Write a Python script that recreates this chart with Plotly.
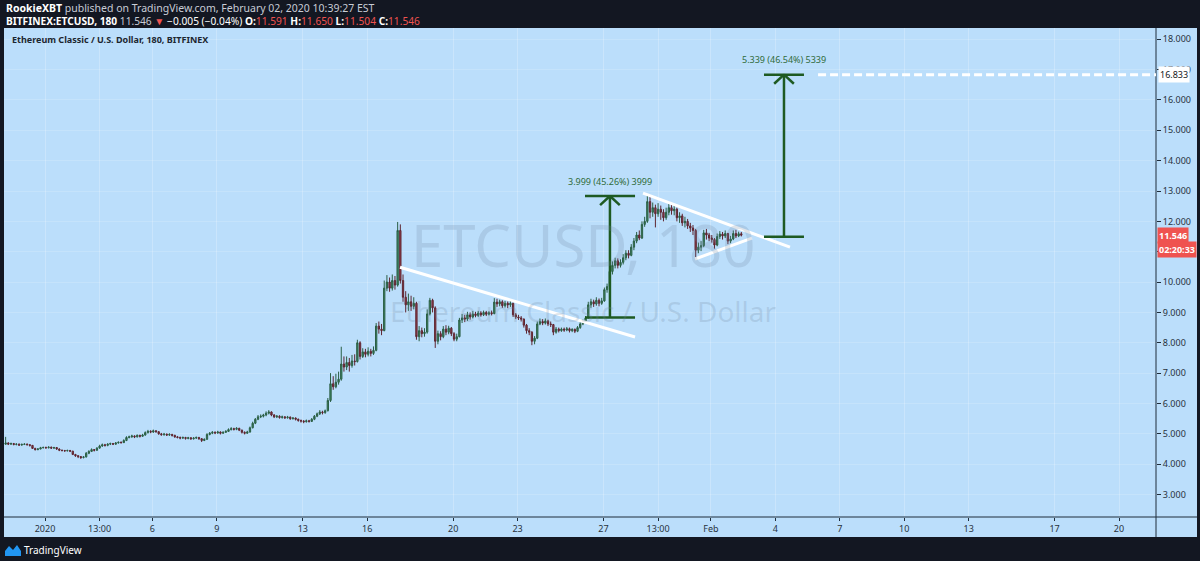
"""
ETC/USD 3h chart in the style of a TradingView snapshot, drawn with Plotly.
"""
import plotly.graph_objects as go
import pandas as pd

# Bitfinex ETC/USD, 180 minute candles, one line per day
# (Dec 30 2019 04:00 ... Feb 2 2020 10:00, chart time)
OPEN = [
    4.66, 4.70, 4.66, 4.68, 4.65, 4.66, 4.63,
    4.65, 4.66, 4.64, 4.62, 4.52, 4.48, 4.50, 4.54,
    4.55, 4.54, 4.56, 4.53, 4.55, 4.50, 4.46, 4.45,
    4.44, 4.45, 4.43, 4.32, 4.28, 4.25, 4.22, 4.24,
    4.36, 4.42, 4.48, 4.46, 4.53, 4.60, 4.64, 4.62,
    4.66, 4.68, 4.66, 4.70, 4.72, 4.71, 4.78, 4.88,
    4.90, 4.93, 4.90, 4.95, 4.92, 4.96, 5.04, 5.08,
    5.06, 5.10, 5.07, 5.00, 4.97, 4.99, 4.96, 4.98,
    4.95, 4.90, 4.88, 4.86, 4.88, 4.85, 4.87, 4.84,
    4.86, 4.88, 4.84, 4.78, 4.82, 4.98, 5.02, 5.05,
    5.03, 5.06, 5.02, 5.05, 5.08, 5.14, 5.17, 5.15,
    5.18, 5.12, 5.05, 5.02, 5.06, 5.20, 5.35, 5.48,
    5.56, 5.58, 5.62, 5.68, 5.72, 5.62, 5.56, 5.58,
    5.54, 5.56, 5.53, 5.55, 5.50, 5.52, 5.48, 5.44,
    5.42, 5.40, 5.43, 5.41, 5.48, 5.58, 5.66, 5.72,
    5.70, 5.76, 6.10, 6.65, 6.55, 6.70, 6.80, 7.30,
    7.20, 7.35, 7.25, 7.40, 7.38, 8.00, 7.55, 7.70,
    7.62, 7.72, 7.65, 7.75, 8.55, 8.45, 8.40, 9.80,
    10.00, 9.80, 10.05, 9.90, 11.70, 10.05, 9.50, 9.25,
    9.35, 9.20, 9.30, 8.20, 8.40, 8.30, 8.35, 8.95,
    9.40, 9.15, 8.05, 8.30, 8.20, 8.45, 8.35, 8.48,
    8.30, 8.12, 8.20, 8.75, 8.82, 8.78, 8.92, 8.85,
    8.95, 8.90, 8.98, 8.92, 9.00, 8.94, 8.99, 8.96,
    9.34, 9.28, 9.35, 9.22, 9.30, 9.25, 9.30, 8.92,
    8.85, 8.82, 8.78, 8.58, 8.40, 8.35, 8.05, 8.15,
    8.62, 8.70, 8.65, 8.72, 8.62, 8.60, 8.35, 8.45,
    8.40, 8.45, 8.42, 8.46, 8.40, 8.44, 8.38, 8.50,
    8.62, 8.70, 8.82, 9.25, 9.35, 9.28, 9.40, 9.30,
    9.38, 9.75, 9.85, 10.35, 10.55, 10.70, 10.55, 10.65,
    10.80, 10.95, 10.88, 11.15, 11.35, 11.55, 11.45, 11.90,
    12.00, 12.65, 12.30, 12.45, 12.25, 12.40, 12.30, 12.12,
    12.30, 12.45, 12.35, 12.40, 12.12, 12.18, 11.95, 12.00,
    11.85, 11.78, 11.70, 11.05, 11.15, 11.20, 11.62, 11.55,
    11.45, 11.40, 11.22, 11.50, 11.58, 11.52, 11.60, 11.35,
    11.42, 11.60, 11.52, 11.591,
]
HIGH = [
    4.90, 4.72, 4.71, 4.70, 4.69, 4.68, 4.68,
    4.69, 4.68, 4.66, 4.63, 4.54, 4.53, 4.57, 4.58,
    4.58, 4.59, 4.58, 4.57, 4.56, 4.52, 4.48, 4.47,
    4.48, 4.47, 4.44, 4.34, 4.30, 4.27, 4.27, 4.40,
    4.46, 4.52, 4.50, 4.56, 4.64, 4.68, 4.67, 4.69,
    4.71, 4.70, 4.73, 4.75, 4.75, 4.82, 4.92, 4.94,
    4.97, 4.95, 4.98, 4.97, 5.00, 5.08, 5.13, 5.12,
    5.14, 5.12, 5.09, 5.03, 5.03, 5.01, 5.02, 5.00,
    4.97, 4.93, 4.91, 4.91, 4.90, 4.90, 4.89, 4.89,
    4.91, 4.90, 4.86, 4.85, 5.02, 5.06, 5.09, 5.08,
    5.10, 5.08, 5.08, 5.12, 5.18, 5.22, 5.20, 5.22,
    5.20, 5.14, 5.08, 5.10, 5.24, 5.40, 5.52, 5.62,
    5.64, 5.66, 5.74, 5.78, 5.74, 5.65, 5.62, 5.61,
    5.60, 5.58, 5.59, 5.57, 5.55, 5.54, 5.50, 5.47,
    5.45, 5.47, 5.46, 5.52, 5.62, 5.70, 5.78, 5.76,
    5.80, 6.18, 7.00, 6.90, 6.98, 7.05, 7.87, 7.55,
    7.55, 7.50, 7.60, 7.62, 8.10, 8.05, 7.82, 7.80,
    7.85, 7.80, 7.88, 8.65, 8.70, 8.62, 10.05, 10.23,
    10.15, 10.25, 10.20, 11.98, 11.90, 10.25, 9.70, 9.62,
    9.55, 9.50, 9.35, 8.55, 8.50, 8.48, 9.10, 9.48,
    9.45, 9.20, 8.40, 8.38, 8.55, 8.58, 8.56, 8.52,
    8.35, 8.30, 8.82, 8.95, 8.92, 9.02, 9.00, 9.05,
    9.02, 9.05, 9.04, 9.06, 9.05, 9.04, 9.06, 9.47,
    9.45, 9.42, 9.40, 9.38, 9.36, 9.40, 9.32, 8.98,
    8.92, 8.88, 8.80, 8.62, 8.48, 8.38, 8.22, 8.70,
    8.80, 8.78, 8.80, 8.76, 8.70, 8.62, 8.52, 8.50,
    8.50, 8.50, 8.52, 8.50, 8.48, 8.47, 8.55, 8.68,
    8.76, 8.88, 9.35, 9.45, 9.42, 9.50, 9.46, 9.48,
    9.82, 9.95, 10.45, 10.68, 10.80, 10.78, 10.75, 10.92,
    11.05, 11.05, 11.25, 11.45, 11.65, 11.70, 12.00, 12.15,
    12.87, 12.80, 12.62, 12.55, 12.60, 12.52, 12.40, 12.45,
    12.58, 12.55, 12.52, 12.45, 12.30, 12.25, 12.15, 12.08,
    11.95, 11.88, 11.75, 11.30, 11.35, 11.72, 11.75, 11.62,
    11.55, 11.45, 11.60, 11.68, 11.65, 11.70, 11.62, 11.52,
    11.70, 11.72, 11.66, 11.650,
]
LOW = [
    4.64, 4.63, 4.64, 4.62, 4.62, 4.60, 4.61,
    4.63, 4.62, 4.58, 4.50, 4.45, 4.46, 4.49, 4.52,
    4.51, 4.52, 4.50, 4.50, 4.47, 4.43, 4.42, 4.41,
    4.42, 4.40, 4.30, 4.24, 4.20, 4.17, 4.19, 4.22,
    4.33, 4.40, 4.42, 4.44, 4.51, 4.57, 4.58, 4.59,
    4.63, 4.63, 4.64, 4.68, 4.68, 4.70, 4.76, 4.85,
    4.87, 4.86, 4.88, 4.88, 4.90, 4.94, 5.01, 5.02,
    5.03, 5.04, 4.97, 4.94, 4.94, 4.93, 4.93, 4.91,
    4.87, 4.85, 4.82, 4.83, 4.81, 4.82, 4.80, 4.81,
    4.83, 4.80, 4.73, 4.76, 4.80, 4.95, 4.99, 4.99,
    5.00, 4.98, 5.00, 5.03, 5.06, 5.11, 5.11, 5.12,
    5.09, 5.01, 4.98, 5.00, 5.04, 5.18, 5.32, 5.45,
    5.52, 5.54, 5.58, 5.64, 5.58, 5.52, 5.52, 5.50,
    5.50, 5.49, 5.50, 5.46, 5.47, 5.44, 5.40, 5.37,
    5.35, 5.37, 5.37, 5.39, 5.45, 5.55, 5.62, 5.64,
    5.66, 5.74, 6.05, 6.45, 6.50, 6.62, 6.75, 7.05,
    7.10, 7.05, 7.18, 7.25, 7.35, 7.45, 7.50, 7.52,
    7.55, 7.55, 7.60, 7.72, 8.30, 8.25, 8.38, 9.70,
    9.68, 9.72, 9.75, 9.85, 9.95, 9.35, 9.00, 9.05,
    9.05, 9.10, 8.10, 8.05, 8.18, 8.20, 8.30, 8.90,
    9.00, 7.83, 7.95, 8.08, 8.15, 8.25, 8.28, 8.22,
    8.05, 8.05, 8.18, 8.65, 8.68, 8.72, 8.76, 8.80,
    8.84, 8.85, 8.86, 8.88, 8.88, 8.90, 8.90, 8.94,
    9.18, 9.20, 9.15, 9.16, 9.14, 9.18, 8.85, 8.78,
    8.75, 8.70, 8.50, 8.30, 8.25, 7.92, 7.95, 8.12,
    8.58, 8.58, 8.60, 8.55, 8.52, 8.25, 8.30, 8.34,
    8.36, 8.36, 8.38, 8.34, 8.35, 8.32, 8.35, 8.46,
    8.58, 8.66, 8.80, 9.15, 9.18, 9.22, 9.20, 9.25,
    9.35, 9.65, 9.80, 10.25, 10.45, 10.45, 10.48, 10.58,
    10.72, 10.78, 10.85, 11.05, 11.28, 11.38, 11.42, 11.82,
    11.95, 12.10, 12.15, 11.80, 12.15, 12.05, 12.00, 12.05,
    12.20, 12.22, 12.20, 12.00, 11.95, 11.85, 11.80, 11.75,
    11.65, 11.55, 10.82, 10.95, 11.02, 11.15, 11.40, 11.35,
    11.30, 11.10, 11.18, 11.42, 11.40, 11.45, 11.25, 11.28,
    11.38, 11.45, 11.48, 11.504,
]
CLOSE = [
    4.70, 4.66, 4.68, 4.65, 4.66, 4.63, 4.65,
    4.66, 4.64, 4.62, 4.52, 4.48, 4.50, 4.54, 4.55,
    4.54, 4.56, 4.53, 4.55, 4.50, 4.46, 4.45, 4.44,
    4.45, 4.43, 4.32, 4.28, 4.25, 4.22, 4.24, 4.36,
    4.42, 4.48, 4.46, 4.53, 4.60, 4.64, 4.62, 4.66,
    4.68, 4.66, 4.70, 4.72, 4.71, 4.78, 4.88, 4.90,
    4.93, 4.90, 4.95, 4.92, 4.96, 5.04, 5.08, 5.06,
    5.10, 5.07, 5.00, 4.97, 4.99, 4.96, 4.98, 4.95,
    4.90, 4.88, 4.86, 4.88, 4.85, 4.87, 4.84, 4.86,
    4.88, 4.84, 4.78, 4.82, 4.98, 5.02, 5.05, 5.03,
    5.06, 5.02, 5.05, 5.08, 5.14, 5.17, 5.15, 5.18,
    5.12, 5.05, 5.02, 5.06, 5.20, 5.35, 5.48, 5.56,
    5.58, 5.62, 5.68, 5.72, 5.62, 5.56, 5.58, 5.54,
    5.56, 5.53, 5.55, 5.50, 5.52, 5.48, 5.44, 5.42,
    5.40, 5.43, 5.41, 5.48, 5.58, 5.66, 5.72, 5.70,
    5.76, 6.10, 6.65, 6.55, 6.70, 6.80, 7.30, 7.20,
    7.35, 7.25, 7.40, 7.38, 8.00, 7.55, 7.70, 7.62,
    7.72, 7.65, 7.75, 8.55, 8.45, 8.40, 9.80, 10.00,
    9.80, 10.05, 9.90, 11.70, 10.05, 9.50, 9.25, 9.35,
    9.20, 9.30, 8.20, 8.40, 8.30, 8.35, 8.95, 9.40,
    9.15, 8.05, 8.30, 8.20, 8.45, 8.35, 8.48, 8.30,
    8.12, 8.20, 8.75, 8.82, 8.78, 8.92, 8.85, 8.95,
    8.90, 8.98, 8.92, 9.00, 8.94, 8.99, 8.96, 9.34,
    9.28, 9.35, 9.22, 9.30, 9.25, 9.30, 8.92, 8.85,
    8.82, 8.78, 8.58, 8.40, 8.35, 8.05, 8.15, 8.62,
    8.70, 8.65, 8.72, 8.62, 8.60, 8.35, 8.45, 8.40,
    8.45, 8.42, 8.46, 8.40, 8.44, 8.38, 8.50, 8.62,
    8.70, 8.82, 9.25, 9.35, 9.28, 9.40, 9.30, 9.38,
    9.75, 9.85, 10.35, 10.55, 10.70, 10.55, 10.65, 10.80,
    10.95, 10.88, 11.15, 11.35, 11.55, 11.45, 11.90, 12.00,
    12.65, 12.30, 12.45, 12.25, 12.40, 12.30, 12.12, 12.30,
    12.45, 12.35, 12.40, 12.12, 12.18, 11.95, 12.00, 11.85,
    11.78, 11.70, 11.05, 11.15, 11.20, 11.62, 11.55, 11.45,
    11.40, 11.22, 11.50, 11.58, 11.52, 11.60, 11.35, 11.42,
    11.60, 11.52, 11.591, 11.546,
]
FIRST_CANDLE = "2019-12-30 04:00"

X_TICKS = ["2020-01-01", "2020-01-03 13:00", "2020-01-06", "2020-01-09", "2020-01-13",
           "2020-01-16", "2020-01-20", "2020-01-23", "2020-01-27", "2020-01-29 13:00",
           "2020-02-01", "2020-02-04", "2020-02-07", "2020-02-10", "2020-02-13",
           "2020-02-17", "2020-02-20"]
X_LABELS = ["2020", "13:00", "6", "9", "13", "16", "20", "23", "27", "13:00",
            "Feb", "4", "7", "10", "13", "17", "20"]
X_RANGE = ["2019-12-30 02:10", "2020-02-21 17:20"]
Y_RANGE = [2.26, 18.37]

# drawings on the chart (time, price)
FLAG_LINE = (["2020-01-17 12:40", "2020-01-28 11:15"], [10.49, 8.19])
TRI_UPPER = (["2020-01-28 20:10", "2020-02-04 16:20"], [12.93, 11.15])
TRI_LOWER = (["2020-01-31 06:15", "2020-02-02 21:50"], [10.76, 11.45])
MEASURES = [
    dict(x0="2020-01-26 03:20", x1="2020-01-28 11:15", xm="2020-01-27 07:12",
         base=8.836, top=12.835, label="3.999 (45.26%) 3999"),
    dict(x0="2020-02-03 11:20", x1="2020-02-05 08:00", xm="2020-02-04 09:40",
         base=11.494, top=16.833, label="5.339 (46.54%) 5339"),
]
TARGET_START = "2020-02-05 23:45"
TARGET = 16.833
LAST = 11.546
COUNTDOWN = "02:20:33"

W, H = 1200, 561
M_L, M_R, M_T, M_B = 4, 44, 28, 44
BG = "#bbdefb"
DARK = "#131722"
EDGE = "#1f2d3b"
GREEN = "#1e5a22"
RED = "#ef5350"
FONT = "Noto Sans"


def px(x):
    # screen pixel -> paper coordinate (paper spans the plot area)
    return (x - M_L) / (W - M_L - M_R)


def py(y):
    return (H - M_B - y) / (H - M_T - M_B)


def seg(x0, y0, x1, y1, color, width, xref="x", yref="y", dash=None, layer="above"):
    return dict(type="line", xref=xref, yref=yref, x0=x0, y0=y0, x1=x1, y1=y1,
                line=dict(color=color, width=width, dash=dash), layer=layer)


def measure_shapes(m):
    """Price range tool: two bars, shaft and arrow head."""
    xm = pd.Timestamp(m["xm"])
    dx = pd.Timedelta(hours=11)
    head = 0.30
    return [
        seg(m["x0"], m["base"], m["x1"], m["base"], GREEN, 2.5),
        seg(m["x0"], m["top"], m["x1"], m["top"], GREEN, 2.5),
        seg(str(xm), m["base"], str(xm), m["top"], GREEN, 2.5),
        seg(str(xm - dx), m["top"] - head, str(xm), m["top"], GREEN, 2.5),
        seg(str(xm + dx), m["top"] - head, str(xm), m["top"], GREEN, 2.5),
    ]


times = pd.date_range(FIRST_CANDLE, periods=len(CLOSE), freq="3h")

fig = go.Figure()
fig.add_trace(go.Candlestick(
    x=times, open=OPEN, high=HIGH, low=LOW, close=CLOSE,
    increasing=dict(line=dict(color="#2b5f45", width=1), fillcolor="#3f8a63"),
    decreasing=dict(line=dict(color="#5e2530", width=1), fillcolor="#963f4d"),
    whiskerwidth=0, showlegend=False, hoverinfo="skip",
))

shapes = [
    # frame of the snapshot
    dict(type="rect", xref="paper", yref="paper", x0=px(0), x1=px(W), y0=py(0), y1=py(28),
         fillcolor=DARK, line_width=0, layer="above"),
    dict(type="rect", xref="paper", yref="paper", x0=px(0), x1=px(W), y0=py(537), y1=py(H),
         fillcolor=DARK, line_width=0, layer="above"),
    dict(type="rect", xref="paper", yref="paper", x0=px(0), x1=px(4), y0=py(28), y1=py(537),
         fillcolor=DARK, line_width=0, layer="above"),
    dict(type="rect", xref="paper", yref="paper", x0=px(1197), x1=px(W), y0=py(28), y1=py(537),
         fillcolor=DARK, line_width=0, layer="above"),
    seg(px(1156), py(28), px(1156), py(537), EDGE, 1, "paper", "paper"),
    seg(px(4), py(517), px(1197), py(517), EDGE, 1, "paper", "paper"),
    # TradingView logo
    dict(type="path", xref="paper", yref="paper", fillcolor="#2196f3", line_width=0,
         layer="above",
         path=" ".join([
             f"M{px(5)},{py(556)}", f"L{px(5)},{py(551)}", f"L{px(9)},{py(546)}",
             f"L{px(13)},{py(550)}", f"L{px(17)},{py(545)}", f"L{px(21)},{py(551)}",
             f"L{px(21)},{py(556)}", "Z"])),
    # trend lines
    seg(FLAG_LINE[0][0], FLAG_LINE[1][0], FLAG_LINE[0][1], FLAG_LINE[1][1], "white", 3),
    seg(TRI_UPPER[0][0], TRI_UPPER[1][0], TRI_UPPER[0][1], TRI_UPPER[1][1], "white", 3),
    seg(TRI_LOWER[0][0], TRI_LOWER[1][0], TRI_LOWER[0][1], TRI_LOWER[1][1], "white", 3),
    seg(TARGET_START, TARGET, X_RANGE[1], TARGET, "white", 3, dash="8px,4px"),
]
for m in MEASURES:
    shapes += measure_shapes(m)

annotations = [
    dict(text="ETCUSD, 180", x=px(583), y=py(244), font=dict(size=58, color="rgba(110,134,158,0.22)")),
    dict(text="Ethereum Classic / U.S. Dollar", x=px(583), y=py(311),
         font=dict(size=28, color="rgba(110,134,158,0.22)")),
    dict(text="<b>RookieXBT</b><span style='color:#c8ccd6'> published on TradingView.com, "
              "February 02, 2020 10:39:27 EST</span>",
         x=px(4), y=py(8), xanchor="left", font=dict(size=10.5, color="white")),
    dict(text="<b>BITFINEX:ETCUSD, 180</b> <span style='color:#c8ccd6'>11.546</span> "
              f"<span style='color:{RED}'>▼</span> −0.005 (−0.04%) "
              f"<b>O:</b><span style='color:{RED}'>11.591</span> "
              f"<b>H:</b><span style='color:{RED}'>11.650</span> "
              f"<b>L:</b><span style='color:{RED}'>11.504</span> "
              f"<b>C:</b><span style='color:{RED}'>11.546</span>",
         x=px(4), y=py(21), xanchor="left", font=dict(size=10.2, color="white")),
    dict(text="<b>Ethereum Classic / U.S. Dollar, 180, BITFINEX</b>", x=px(10), y=py(40),
         xanchor="left", font=dict(size=9, color="#1c2630")),
    dict(text="TradingView", x=px(22), y=py(550), xanchor="left",
         font=dict(size=10, color="white")),
]
for a in annotations:
    a.update(xref="paper", yref="paper", showarrow=False, yanchor="middle")
    a.setdefault("xanchor", "center")
    a["font"].setdefault("family", FONT)

for m in MEASURES:
    annotations.append(dict(text=m["label"], x=m["xm"], y=m["top"], yshift=15,
                            xref="x", yref="y", showarrow=False,
                            font=dict(size=9, family=FONT, color="#2f6b3a")))

# price axis labels
annotations += [
    dict(text=f"{TARGET:.3f}", x=px(1158), y=TARGET, xref="paper", yref="y",
         xanchor="left", showarrow=False, bgcolor="white", borderpad=1,
         font=dict(size=9, family=FONT, color=DARK)),
    dict(text=f"<b>{LAST:.3f}</b>", x=px(1157), y=LAST, xref="paper", yref="y",
         xanchor="left", showarrow=False, bgcolor=RED, borderpad=1,
         font=dict(size=9, family=FONT, color="white")),
    dict(text=f"<b>{COUNTDOWN}</b>", x=px(1157), y=LAST, yshift=-14, xref="paper", yref="y",
         xanchor="left", showarrow=False, bgcolor=RED, borderpad=1,
         font=dict(size=9, family=FONT, color="white")),
]

fig.update_layout(
    width=W, height=H,
    paper_bgcolor=BG, plot_bgcolor=BG,
    margin=dict(l=M_L, r=M_R, t=M_T, b=M_B),
    font=dict(family=FONT, size=9, color="#28323d"),
    shapes=shapes, annotations=annotations,
    showlegend=False,
    xaxis=dict(
        type="date", range=X_RANGE, rangeslider=dict(visible=False),
        tickmode="array", tickvals=X_TICKS, ticktext=X_LABELS,
        ticks="outside", ticklen=3, tickcolor=EDGE,
        showgrid=True, gridcolor="rgba(255,255,255,0.22)", gridwidth=1,
        zeroline=False, showline=False, tickfont=dict(size=9),
    ),
    yaxis=dict(
        range=Y_RANGE, side="right", dtick=1, tick0=0, tickformat=".3f",
        ticks="outside", ticklen=4, tickcolor=EDGE,
        showgrid=True, gridcolor="rgba(255,255,255,0.15)", gridwidth=1,
        zeroline=False, showline=False, tickfont=dict(size=9),
    ),
)

# the page body has an 8px margin by default; drop it so the figure fills the window
fig.write_html("out.html", config=dict(displayModeBar=False),
               post_script="document.body.style.margin='0';document.body.style.overflow='hidden';")
